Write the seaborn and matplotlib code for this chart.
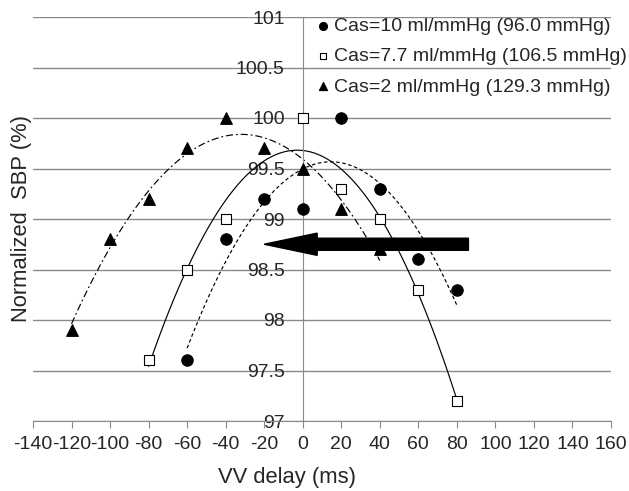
import numpy as np
import pandas as pd
import seaborn as sns
import matplotlib
matplotlib.use('Agg')
from matplotlib import pyplot as plt

# VV delay (ms) vs normalized SBP (%) for three Cas settings
delay_circ = [-60, -40, -20, 0, 20, 40, 60, 80]
sbp_circ = [97.6, 98.8, 99.2, 99.1, 100.0, 99.3, 98.6, 98.3]
delay_sq = [-80, -60, -40, 0, 20, 40, 60, 80]
sbp_sq = [97.6, 98.5, 99.0, 100.0, 99.3, 99.0, 98.3, 97.2]
delay_tri = [-120, -100, -80, -60, -40, -20, 0, 20, 40]
sbp_tri = [97.9, 98.8, 99.2, 99.7, 100.0, 99.7, 99.5, 99.1, 98.7]
labels = ['Cas=10 ml/mmHg (96.0 mmHg)',
          'Cas=7.7 ml/mmHg (106.5 mmHg)',
          'Cas=2 ml/mmHg (129.3 mmHg)']

sns.set_style('white')
plt.rcParams['font.family'] = ['Liberation Sans', 'DejaVu Sans']
plt.rcParams['font.size'] = 14
plt.rcParams['axes.unicode_minus'] = False

fig = plt.figure(figsize=(6.29, 4.91), dpi=100)
ax = fig.add_axes([33/629, 1-421/491, 578/629, 404/491])

grey = '#8a8a8a'
series = [
    (delay_circ, sbp_circ, 'o', 'k', 8.2, (3, 2.2)),
    (delay_sq, sbp_sq, 's', 'white', 7.0, None),
    (delay_tri, sbp_tri, '^', 'k', 8.4, (6, 2.5, 1.5, 2.5)),
]
for (xs, ys, mk, fc, ms, dash), lab in zip(series, labels):
    df = pd.DataFrame({'x': xs, 'y': ys})
    lk = dict(color='k', lw=0.85, zorder=2)
    if dash is not None:
        lk['dashes'] = dash
    sns.regplot(data=df, x='x', y='y', order=2, ci=None, truncate=True, ax=ax,
                label=lab, marker=mk,
                scatter_kws=dict(s=ms**2, facecolor=fc, edgecolor='k',
                                 linewidths=0.8, alpha=1, zorder=3),
                line_kws=lk)

# big arrow
ax.arrow(86, 98.75, -106, 0, width=0.12, head_width=0.22, head_length=27.5,
         length_includes_head=True, color='k', zorder=5)

ax.set_xlim(-140, 160)
ax.set_ylim(97, 101)
ax.set_xticks(np.arange(-140, 161, 20))
ax.set_yticks([97, 97.5, 98, 98.5, 99, 99.5, 100, 100.5, 101])
ax.set_yticklabels(['97', '97.5', '98', '98.5', '99', '99.5', '100', '100.5', '101'])

ax.grid(axis='y', color=grey, lw=1)
ax.grid(axis='x', visible=False)
for s in ['top', 'right']:
    ax.spines[s].set_visible(False)
ax.spines['left'].set_position(('data', 0))
ax.spines['left'].set_color(grey)
ax.spines['bottom'].set_color(grey)
ax.tick_params(axis='x', direction='out', length=5, color=grey, pad=6, bottom=True)
ax.tick_params(axis='y', length=0, pad=13, left=True)
ax.set_axisbelow(True)

ax.set_xlabel('VV delay (ms)', fontsize=15.8)
ax.set_ylabel('Normalized  SBP (%)', fontsize=15.8)
ax.xaxis.set_label_coords(0.44, -0.114)
ax.yaxis.set_label_coords(-0.002, 0.5)

ax.legend(loc='upper left', bbox_to_anchor=(317/629, 1-17/491),
          bbox_transform=fig.transFigure, frameon=False, fontsize=14,
          markerscale=0.7, handlelength=0.6, handletextpad=0.3,
          labelspacing=0.66, borderpad=0, borderaxespad=0)

fig.savefig('out.png', dpi=100)
